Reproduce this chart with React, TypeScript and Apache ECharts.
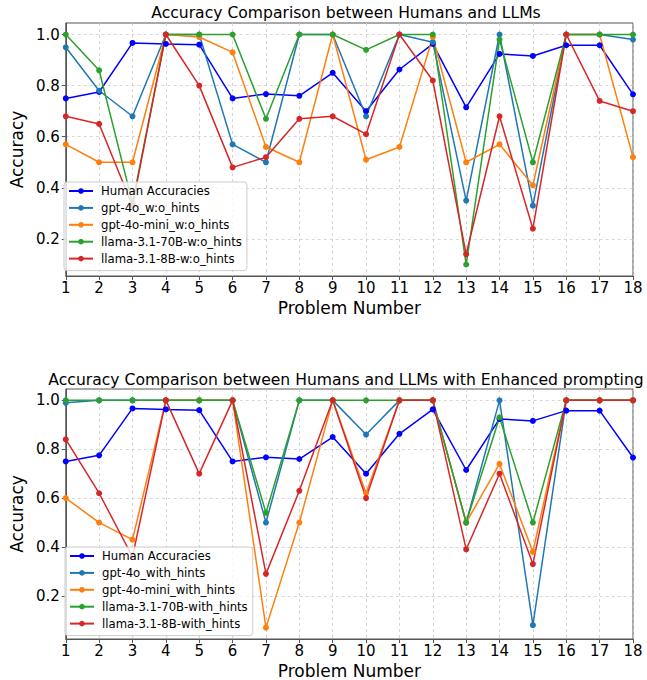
import React, { useEffect, useRef } from "react";
import * as echarts from "echarts";

const problems = [1, 2, 3, 4, 5, 6, 7, 8, 9, 10, 11, 12, 13, 14, 15, 16, 17, 18];
const yTicks = [0.2, 0.4, 0.6, 0.8, 1.0];

const human = [0.75, 0.775, 0.967, 0.963, 0.96, 0.75, 0.767, 0.76, 0.85, 0.7, 0.863, 0.963, 0.715, 0.924, 0.916, 0.958, 0.958, 0.766];

const gpt4oWo = [0.95, 0.78, 0.68, 1.0, 1.0, 0.57, 0.5, 1.0, 1.0, 0.68, 1.0, 0.97, 0.35, 1.0, 0.33, 1.0, 1.0, 0.98];
const miniWo = [0.57, 0.5, 0.5, 1.0, 0.99, 0.93, 0.56, 0.5, 1.0, 0.51, 0.56, 0.99, 0.5, 0.57, 0.41, 1.0, 1.0, 0.52];
const l70Wo = [1.0, 0.86, 0.34, 1.0, 1.0, 1.0, 0.67, 1.0, 1.0, 0.94, 1.0, 1.0, 0.1, 0.98, 0.5, 1.0, 1.0, 1.0];
const l8Wo = [0.68, 0.65, 0.33, 1.0, 0.8, 0.48, 0.52, 0.67, 0.68, 0.61, 1.0, 0.82, 0.14, 0.68, 0.24, 1.0, 0.74, 0.7];

const gpt4oW = [0.99, 1.0, 1.0, 1.0, 1.0, 1.0, 0.5, 1.0, 1.0, 0.86, 1.0, 1.0, 0.5, 1.0, 0.08, 1.0, 1.0, 1.0];
const miniW = [0.6, 0.5, 0.43, 1.0, 1.0, 1.0, 0.07, 0.5, 1.0, 0.62, 1.0, 1.0, 0.5, 0.74, 0.38, 1.0, 1.0, 1.0];
const l70W = [1.0, 1.0, 1.0, 1.0, 1.0, 1.0, 0.54, 1.0, 1.0, 1.0, 1.0, 1.0, 0.5, 0.93, 0.5, 1.0, 1.0, 1.0];
const l8W = [0.84, 0.62, 0.36, 1.0, 0.7, 1.0, 0.29, 0.63, 1.0, 0.6, 1.0, 1.0, 0.39, 0.7, 0.33, 1.0, 1.0, 1.0];

const namesTop = ["Human Accuracies", "gpt-4o_w:o_hints", "gpt-4o-mini_w:o_hints", "llama-3.1-70B-w:o_hints", "llama-3.1-8B-w:o_hints"];
const namesBottom = ["Human Accuracies", "gpt-4o_with_hints", "gpt-4o-mini_with_hints", "llama-3.1-70B-with_hints", "llama-3.1-8B-with_hints"];
const colors = ["#0000ff", "#1f77b4", "#ff7f0e", "#2ca02c", "#d62728"];

const FONT = "DejaVu Sans";

export default function App() {
  const ref = useRef<HTMLDivElement>(null);
  useEffect(() => {
    if (!ref.current) return;
    const chart = echarts.init(ref.current, undefined, { renderer: "svg" });

    const topData = [human, gpt4oWo, miniWo, l70Wo, l8Wo];
    const botData = [human, gpt4oW, miniW, l70W, l8W];

    const mkSeries = (names: string[], data: number[][], idx: number) =>
      names.map((n, i) => ({
        name: n,
        type: "line",
        xAxisIndex: idx,
        yAxisIndex: idx,
        data: problems.map((p, j) => [p, data[i][j]]),
        symbol: "circle",
        symbolSize: 6,
        showAllSymbol: true,
        lineStyle: { width: 1.5, color: colors[i] },
        itemStyle: { color: colors[i] },
        emphasis: { disabled: true },
        z: 2,
      }));

    const mkX = (idx: number) => ({
      type: "value",
      gridIndex: idx,
      min: 1,
      max: 18,
      interval: 1,
      name: "Problem Number",
      nameLocation: "middle",
      nameGap: 23,
      nameTextStyle: { fontFamily: FONT, fontSize: 17, color: "#000", lineHeight: 17 },
      axisLine: { show: true, lineStyle: { color: "#555", width: 1 } },
      axisTick: { show: true, inside: false, length: 4, lineStyle: { color: "#555" } },
      axisLabel: { fontFamily: FONT, fontSize: 15, color: "#000", margin: 4, lineHeight: 15 },
      splitLine: { show: true, lineStyle: { color: "#cccccc", type: [3, 3], width: 0.8 } },
    });

    const mkY = (idx: number, min: number, max: number) => ({
      type: "value",
      gridIndex: idx,
      min,
      max,
      name: "Accuracy",
      nameLocation: "middle",
      nameGap: 33,
      nameTextStyle: { fontFamily: FONT, fontSize: 17, color: "#000" },
      axisLine: { show: true, lineStyle: { color: "#555", width: 1 } },
      axisTick: { show: true, length: 4, lineStyle: { color: "#555" }, customValues: yTicks },
      axisLabel: {
        fontFamily: FONT,
        fontSize: 15,
        color: "#000",
        margin: 6,
        customValues: yTicks,
        formatter: (v: number) => v.toFixed(1),
      },
      splitLine: { show: true, lineStyle: { color: "#cccccc", type: [3, 3], width: 0.8 } },
    });

    const mkLegend = (names: string[], left: number, top: number) => ({
      data: names,
      orient: "vertical",
      left,
      top,
      z: 50,
      itemWidth: 24,
      itemHeight: 7,
      itemGap: 4.9,
      padding: [3, 5, 6, 4],
      backgroundColor: "rgba(255,255,255,0.8)",
      borderColor: "#cccccc",
      borderWidth: 1,
      borderRadius: 3,
      selectedMode: false,
      textStyle: { fontFamily: FONT, fontSize: 11.7, color: "#000", lineHeight: 12, padding: [0, 0, 0, 3] },
    });

    const titleText = (text: string, y: number) => ({
      type: "text",
      x: 346,
      y,
      style: {
        text,
        fontFamily: FONT,
        fontSize: 15.6,
        fill: "#000",
        textAlign: "center",
        align: "center",
        textVerticalAlign: "middle",
        verticalAlign: "middle",
      },
    });

    chart.setOption({
      animation: false,
      grid: [
        { left: 59, top: 23, width: 574, height: 253, show: true, borderColor: "#555", borderWidth: 1, backgroundColor: "transparent" },
        { left: 59, top: 389, width: 574, height: 251, show: true, borderColor: "#555", borderWidth: 1, backgroundColor: "transparent" },
      ],
      xAxis: [mkX(0), mkX(1)],
      yAxis: [mkY(0, 0.055, 1.045), mkY(1, 0.0235, 1.0465)],
      legend: [mkLegend(namesTop, 64, 182), mkLegend(namesBottom, 65, 547)],
      graphic: [titleText("Accuracy Comparison between Humans and LLMs", 12.8), titleText("Accuracy Comparison between Humans and LLMs with Enhanced prompting", 379.5)],
      series: [...mkSeries(namesTop, topData, 0), ...mkSeries(namesBottom, botData, 1)],
    });

    return () => chart.dispose();
  }, []);

  return <div ref={ref} style={{ position: "fixed", left: 0, top: 0, width: 647, height: 680, background: "#fff" }} />;
}
